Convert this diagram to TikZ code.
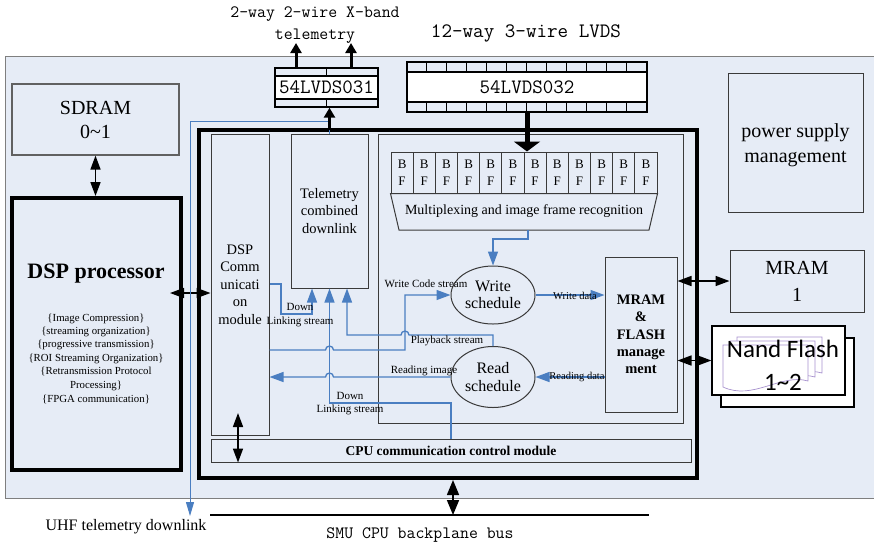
\documentclass[tikz,border=0pt]{standalone}
\usepackage{fontspec}
\setmainfont{Liberation Serif}
\newfontfamily\calfont{Carlito}
\usetikzlibrary{arrows.meta,shapes.geometric,calc}
\definecolor{panel}{HTML}{E6ECF6}
\definecolor{panelline}{HTML}{7F7F7F}
\definecolor{lnk}{HTML}{4A7EC1}
\definecolor{docp}{HTML}{A893CF}
\definecolor{boxgray}{HTML}{3A3A3A}
\newcommand{\fsz}[2]{\fontsize{#1}{#2}\selectfont}
\begin{document}
\begin{tikzpicture}[x=1pt,y=-1pt,
  box/.style={draw=boxgray, line width=1pt, inner sep=0pt, align=center},
  thickbox/.style={draw=black, line width=4pt, inner sep=0pt},
  ell/.style={ellipse, draw=boxgray, line width=1pt, inner sep=0pt, align=center},
  chip/.style={draw=black, line width=1.4pt, inner sep=0pt},
  nbox/.style={draw=black, line width=1.2pt, fill=white, inner sep=0pt},
  blu/.style={draw=lnk, line width=1.3pt},
  dbl/.style={line width=1.6pt, {Triangle[length=14pt,width=10pt]}-{Triangle[length=14pt,width=10pt]}},
  lbl/.style={font=\fsz{11}{13.5}, inner sep=0pt, align=center},
  txt/.style={inner sep=0pt, align=center}]
\useasboundingbox (0,0) rectangle (874,547);
\fill[white] (0,0) rectangle (874,547);
% panel
\fill[panel] (5,56) rectangle (874,498);
\draw[panelline, line width=1pt] (874,56) -- (5,56) -- (5,498) -- (874,498);

% top texts
\node[txt, font=\ttfamily\fsz{17.3}{22}] (xband) at (315,25) {2-way 2-wire X-band\\telemetry};
\node[txt, font=\ttfamily\fsz{20.5}{24}] (lvdst) at (526,33) {12-way 3-wire LVDS};

% 54LVDS031
\node[chip, minimum width=103, minimum height=8] (lv31t) at (326.5,72) {};
\node[chip, minimum width=103, minimum height=8] (lv31b) at (326.5,103) {};
\node[chip, fill=white, minimum width=103, minimum height=23, font=\ttfamily\fsz{20.4}{24}] (lv31) at (326.5,87.5) {54LVDS031};
\draw[line width=1.2pt] (lv31t.north) -- (lv31t.south);
\draw[line width=1.2pt] (lv31b.north) -- (lv31b.south);

% 54LVDS032
\node[chip, minimum width=240, minimum height=10] (lv32t) at (527,67) {};
\node[chip, minimum width=240, minimum height=10] (lv32b) at (527,107) {};
\node[chip, fill=white, minimum width=240, minimum height=30, font=\ttfamily\fsz{20.4}{24}] (lv32) at (527,87) {54LVDS032};
\foreach \k in {1,...,11} {
  \draw[line width=1.2pt] ($(lv32t.north west)+(20*\k,0)$) -- ($(lv32t.south west)+(20*\k,0)$);
  \draw[line width=1.2pt] ($(lv32b.north west)+(20*\k,0)$) -- ($(lv32b.south west)+(20*\k,0)$);
}

% left side
\node[box, draw=boxgray!80, line width=1.2pt, minimum width=167, minimum height=71, font=\fsz{20}{24}] (sdram) at (95.5,119.5) {SDRAM\\0\textasciitilde 1};
\node[thickbox, minimum width=169, minimum height=272] (dsp) at (96.5,334) {};
\node[txt, font=\bfseries\fsz{22}{26}] (dsptitle) at (96,274) {DSP processor};
\node[txt, font=\fsz{10.8}{13.4}] (dsplist) at (96,359) {\{Image Compression\}\\\{streaming organization\}\\\{progressive transmission\}\\\{ROI Streaming Organization\}\\\{Retransmission Protocol\\Processing\}\\[1.5pt]\{FPGA communication\}};

% inner module
\node[thickbox, minimum width=498, minimum height=348] (inner) at (448,304) {};
\node[box, minimum width=58, minimum height=301, font=\fsz{14.5}{17.5}] (dcomm) at (240,284.5) {DSP\\Comm\\unicati\\on\\module};
\node[box, minimum width=77, minimum height=154, font=\fsz{14.5}{17.5}] (tel) at (329.5,211) {Telemetry\\combined\\downlink};
\node[box, minimum width=305, minimum height=289] (rbox) at (530.5,278.5) {};
\foreach \i in {0,...,11}
  \node[box, minimum width=22.17, minimum height=41, font=\fsz{13}{17}] (bf\i) at ({402.08+22.17*\i},172.5) {B\\F};
\draw[draw=boxgray, line width=1pt] (bf0.south west) -- (bf11.south east) -- (649,230) -- (399,230) -- cycle;
\node[txt, font=\fsz{14}{17}] (mux) at (524,211) {Multiplexing and image frame recognition};
\coordinate (muxb) at (528,230);
\node[ell, minimum width=84, minimum height=58, font=\fsz{16}{17.5}] (write) at (493,295) {Write\\schedule};
\node[ell, minimum width=84, minimum height=61, font=\fsz{16}{17.5}] (read) at (493,377) {Read\\schedule};
\node[box, minimum width=72, minimum height=155, font=\bfseries\fsz{14.5}{17.3}] (mf) at (641,334.5) {MRAM\\\&\\FLASH\\manage\\ment};
\node[box, minimum width=480, minimum height=23, font=\bfseries\fsz{13.5}{16}] (cpu) at (451,450.5) {CPU communication control module};

% right side
\node[box, minimum width=135, minimum height=139] (power) at (795.5,142.5) {};
\node[txt, font=\fsz{20}{25}] (powertxt) at (795.5,145) {power supply\\management};
\node[box, minimum width=134, minimum height=62, font=\fsz{20}{27}] (mram1) at (797,281) {MRAM\\1};
\node[nbox, minimum width=133, minimum height=69] (nandb) at (787.5,372.5) {};
\node[nbox, minimum width=133, minimum height=69] (nand) at (778.5,360.5) {};
\foreach \i in {2,1,0} {
  \pgfmathsetmacro{\xo}{723+7*\i}
  \pgfmathsetmacro{\yo}{345-4*\i}
  \draw[docp, line width=0.7pt, fill=white] (\xo,\yo) -- ({\xo+85},\yo) -- ({\xo+85},{\yo+36})
     .. controls ({\xo+58},{\yo+28}) and ({\xo+30},{\yo+56}) .. (\xo,{\yo+42}) -- cycle;
}
\node[txt, font=\calfont\fsz{25}{33}] (nandtxt) at (783,365) {Nand Flash\\1\textasciitilde 2};

% bottom
\coordinate (busL) at (210,515);
\coordinate (busR) at (649,515);
\draw[line width=1.2pt] (busL) -- (busR);
\node[txt, font=\fsz{16}{18}] (uhf) at (126,527) {UHF telemetry downlink};
\node[txt, font=\ttfamily\fsz{17.3}{20}] (smu) at (420,535) {SMU CPU backplane bus};

% black connectors
\coordinate (dspA) at (170,293);
\coordinate (dcA) at (238,413);
\coordinate (tx1) at (296,43);
\coordinate (tx2) at (351,43);
\coordinate (telA) at (329.5,130);
\draw[dbl] (sdram.south) -- (sdram.south |- dsp.north);
\draw[dbl] (dspA) -- (dcomm.west |- dspA);
\draw[dbl] (dcA) -- (cpu.south -| dcA);
\draw[dbl, {Triangle[length=15pt,width=12pt]}-{Triangle[length=15pt,width=12pt]}] (inner.south -| 453,0) -- (busL -| 453,0);
\draw[dbl] (mf.east |- mram1.west) -- (mram1.west);
\draw[dbl] (mf.east |- nand.west) -- (nand.west);
\draw[line width=3pt, -{Triangle[length=10pt,width=11pt]}] (lv31t.north -| tx1) -- (tx1);
\draw[line width=3pt, -{Triangle[length=10pt,width=11pt]}] (lv31t.north -| tx2) -- (tx2);
\draw[line width=5pt, -{Triangle[length=10pt,width=26pt]}] (lv32b.south -| 527,0) -- (bf6.north -| 527,0);

% blue connectors
\coordinate (uhfend) at (190,516);
\draw[blu, line width=1pt, -{Triangle[length=14pt,width=8pt]}] (tel.north |- 0,121) -- (190,121) -- (uhfend);
\draw[blu, line width=1pt] (tel.north) -- (tel.north |- lv31b.south);
\draw[line width=2.5pt, -{Triangle[length=10pt,width=11pt]}] (telA) -- (tel.north |- lv31b.south);

\draw[blu, -{Triangle[length=14pt,width=10pt]}] (muxb) -- (528,239) -- (493,239) -- (write.north);
\draw[blu, -{Triangle[length=14pt,width=10pt]}] (dcomm.east |- 0,284) -- (281,284) -- (281,314) -- (312,314) -- (tel.south -| 312,0);
\draw[blu, -{Triangle[length=14pt,width=10pt]}] (cpu.north -| 451,0) -- (451,403) -- (329.5,403) -- (tel.south);
\draw[blu, -{Triangle[length=14pt,width=10pt]}] (read.north) -- (493,335) -- (409,335) arc[start angle=0,end angle=180,radius=4pt] -- (347,335) -- (tel.south -| 347,0);
\draw[blu, -{Triangle[length=14pt,width=10pt]}] (dcomm.east |- 0,350) -- (325.5,350) arc[start angle=180,end angle=0,radius=4pt] -- (405,350) -- (405,295) -- (write.west);
\draw[blu, -{Triangle[length=14pt,width=10pt]}] (read.west) -- (333.5,377) arc[start angle=0,end angle=180,radius=4pt] -- (dcomm.east |- 0,377);
\draw[blu, -{Triangle[length=14pt,width=10pt]}] (write.east) -- (write.east -| mf.west);
\draw[blu, -{Triangle[length=14pt,width=10pt]}] (mf.west |- read.east) -- (read.east);

% labels
\node[lbl] (l1) at (300,315) {Down\\Linking stream};
\node[lbl] (l2) at (350,403.5) {Down\\Linking stream};
\node[lbl] (l3) at (426,284) {Write Code stream};
\node[lbl] (l4) at (447,341) {Playback stream};
\node[lbl] (l5) at (424,371) {Reading image};
\node[lbl, font=\fsz{10.5}{12}] (l6) at (575,296) {Write data};
\node[lbl, font=\fsz{10.5}{12}] (l7) at (577,377) {Reading data};
\end{tikzpicture}
\end{document}
